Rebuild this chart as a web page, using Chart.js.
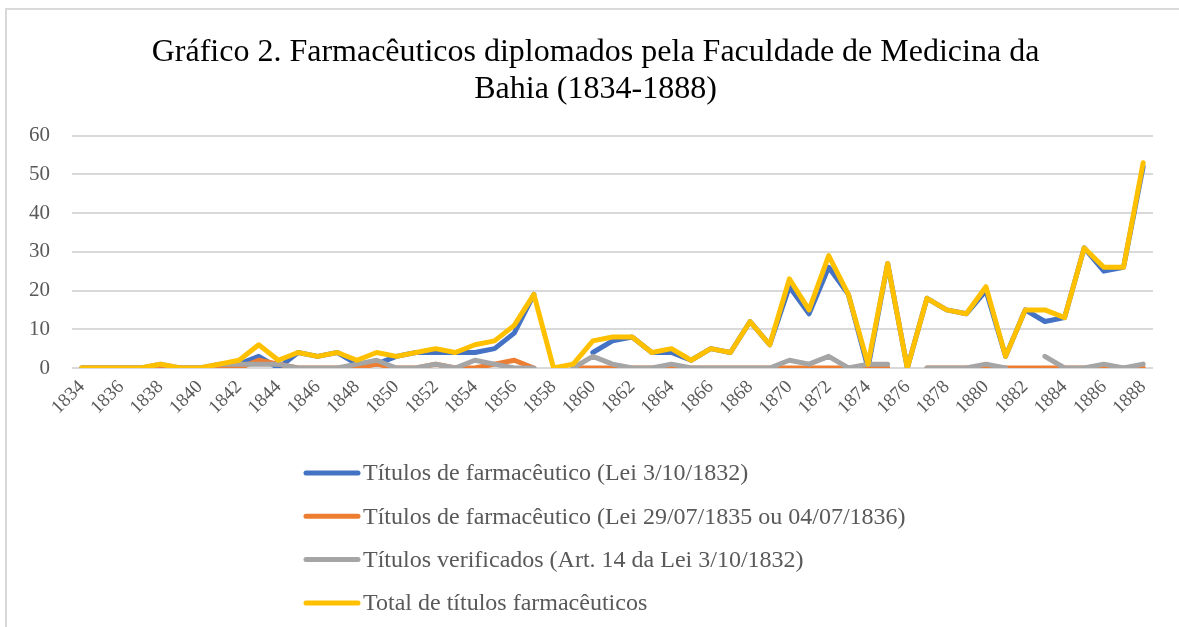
<!DOCTYPE html>
<html>
<head>
<meta charset="utf-8">
<title>Gráfico 2</title>
<script src="https://cdn.jsdelivr.net/npm/chart.js@4.4.1/dist/chart.umd.min.js"></script>
<style>
  html, body { margin: 0; padding: 0; background: #fff; }
  #chart { display: block; }
</style>
</head>
<body>
<canvas id="chart" width="1179" height="627"></canvas>
<script>
// one entry per year, 1834..1888 (null = no value, Excel leaves a gap)
const years = [
  '1834','1835','1836','1837','1838','1839','1840','1841','1842','1843',
  '1844','1845','1846','1847','1848','1849','1850','1851','1852','1853',
  '1854','1855','1856','1857','1858','1859','1860','1861','1862','1863',
  '1864','1865','1866','1867','1868','1869','1870','1871','1872','1873',
  '1874','1875','1876','1877','1878','1879','1880','1881','1882','1883',
  '1884','1885','1886','1887','1888'
];
const lei1832 = [
  0, 0, 0, 0, 0, 0, 0, 0, 1, 3,
  0, 4, 3, 4, 1, 1, 3, 4, 4, 4,
  4, 5, 9, 19, null, null, 4, 7, 8, 4,
  4, 2, 5, 4, 12, 6, 21, 14, 26, 19,
  0, 27, 0, 18, 15, 14, 20, 3, 15, 12,
  13, 31, 25, 26, 52
];
const lei1835 = [
  0, 0, 0, 0, 0, 0, 0, 0, 0, 2,
  1, 0, 0, 0, 0, 1, 0, 0, 1, 0,
  0, 1, 2, 0, null, 0, 0, 0, 0, 0,
  0, 0, 0, 0, 0, 0, 0, 0, 0, 0,
  0, 0, null, 0, 0, 0, 0, 0, 0, 0,
  0, 0, 0, 0, 0
];
const verificados = [
  0, 0, 0, 0, 1, 0, 0, 1, 1, 1,
  1, 0, 0, 0, 1, 2, 0, 0, 1, 0,
  2, 1, 0, 0, null, 0, 3, 1, 0, 0,
  1, 0, 0, 0, 0, 0, 2, 1, 3, 0,
  1, 1, null, 0, 0, 0, 1, 0, null, 3,
  0, 0, 1, 0, 1
];
const totalTitulos = [
  0, 0, 0, 0, 1, 0, 0, 1, 2, 6,
  2, 4, 3, 4, 2, 4, 3, 4, 5, 4,
  6, 7, 11, 19, 0, 1, 7, 8, 8, 4,
  5, 2, 5, 4, 12, 6, 23, 15, 29, 19,
  1, 27, 0, 18, 15, 14, 21, 3, 15, 15,
  13, 31, 26, 26, 53
];
const yTicks = [0, 10, 20, 30, 40, 50, 60];

const serif = '"Liberation Serif", "Times New Roman", serif';
const axisGray = '#595959';

// thin grey frame round the whole chart, like the Excel chart box
const chartFrame = {
  id: 'chartFrame',
  afterLayout(chart) {
    // Excel centres the title a bit right of the canvas middle
    if (chart.titleBlock) {
      chart.titleBlock.left = 38;
      chart.titleBlock.right = chart.width - 26;
    }
  },
  beforeDraw(chart) {
    const ctx = chart.ctx;
    ctx.save();
    ctx.fillStyle = '#fff';
    ctx.fillRect(0, 0, chart.width, chart.height);
    ctx.strokeStyle = '#d9d9d9';
    ctx.lineWidth = 2;
    ctx.strokeRect(6, 9, chart.width + 20, chart.height + 20);
    ctx.restore();
  }
};

// Excel stacks the legend one entry per row, so draw it by hand
const listLegend = {
  id: 'listLegend',
  afterDraw(chart) {
    const ctx = chart.ctx;
    const x0 = 306;
    const top = chart.chartArea.bottom + 105;
    const rowH = 43.3;
    ctx.save();
    ctx.font = '24px ' + serif;
    ctx.textBaseline = 'middle';
    chart.data.datasets.forEach((ds, i) => {
      const y = top + i * rowH;
      ctx.strokeStyle = ds.borderColor;
      ctx.lineWidth = 5;
      ctx.lineCap = 'round';
      ctx.beginPath();
      ctx.moveTo(x0, y);
      ctx.lineTo(x0 + 52, y);
      ctx.stroke();
      ctx.fillStyle = axisGray;
      ctx.fillText(ds.label, x0 + 57, y + 1);
    });
    ctx.restore();
  }
};

const lineStyle = {
  borderWidth: 5,
  pointRadius: 0,
  pointHoverRadius: 0,
  tension: 0,
  borderJoinStyle: 'round',
  borderCapStyle: 'round',
  spanGaps: false
};

new Chart(document.getElementById('chart'), {
  type: 'line',
  data: {
    labels: years,
    datasets: [
      { label: 'Títulos de farmacêutico (Lei 3/10/1832)', data: lei1832,
        borderColor: '#4472C4', backgroundColor: '#4472C4', order: 4, ...lineStyle },
      { label: 'Títulos de farmacêutico (Lei 29/07/1835 ou 04/07/1836)', data: lei1835,
        borderColor: '#ED7D31', backgroundColor: '#ED7D31', order: 3, ...lineStyle },
      { label: 'Títulos verificados (Art. 14 da Lei 3/10/1832)', data: verificados,
        borderColor: '#A5A5A5', backgroundColor: '#A5A5A5', order: 2, ...lineStyle },
      { label: 'Total de títulos farmacêuticos', data: totalTitulos,
        borderColor: '#FFC000', backgroundColor: '#FFC000', order: 1, ...lineStyle }
    ]
  },
  options: {
    responsive: false,
    animation: false,
    devicePixelRatio: 1,
    layout: { padding: { left: 0, right: 26, top: 0, bottom: 189 } },
    plugins: {
      legend: { display: false },
      tooltip: { enabled: false },
      title: {
        display: true,
        text: ['Gráfico 2. Farmacêuticos diplomados pela Faculdade de Medicina da', 'Bahia (1834-1888)'],
        color: '#000',
        font: { family: serif, size: 32, weight: 'normal', lineHeight: 1.15 },
        padding: { top: 34, bottom: 28 }
      }
    },
    scales: {
      x: {
        offset: true,
        grid: { display: false, drawTicks: false },
        border: { display: false },
        afterFit: s => { s.height = 70; },
        ticks: {
          autoSkip: false,
          minRotation: 45,
          maxRotation: 45,
          padding: 8,
          color: axisGray,
          font: { family: serif, size: 19 },
          callback: (v, i) => (i % 2 === 0 ? years[i] : '')
        }
      },
      y: {
        min: 0,
        max: 60,
        afterFit: s => { s.width = 72; },
        afterBuildTicks: s => { s.ticks = yTicks.map(v => ({ value: v })); },
        grid: { color: '#d9d9d9', lineWidth: 2, drawTicks: false },
        border: { display: false },
        ticks: {
          padding: 22,
          color: axisGray,
          font: { family: serif, size: 21 }
        }
      }
    }
  },
  plugins: [chartFrame, listLegend]
});
</script>
</body>
</html>
